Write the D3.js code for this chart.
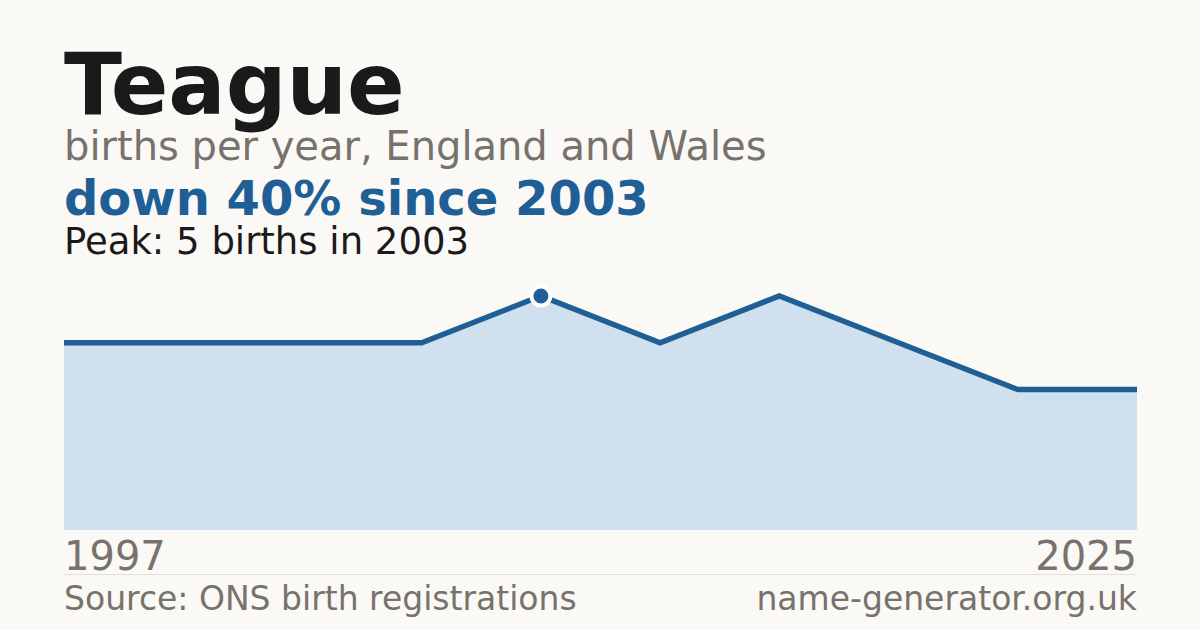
<!DOCTYPE html>
<html>
<head>
<meta charset="utf-8">
<script src="https://cdn.jsdelivr.net/npm/d3@7"></script>
<style>
  html, body { margin: 0; padding: 0; background: #faf9f5; }
  svg { display: block; font-family: "DejaVu Sans", sans-serif; }
</style>
</head>
<body>
<div id="chart"></div>
<script>
// years with registrations, and births in each
var years = [1997, 1998, 2000, 2002, 2003, 2006, 2010, 2014, 2019, 2025];
var births = [4, 4, 4, 4, 5, 4, 5, 4, 3, 3];
var axisLabels = ["1997", "2025"];

var W = 1200, H = 630;
var margin = { left: 64, right: 63 };

var svg = d3.select("#chart").append("svg")
  .attr("width", W)
  .attr("height", H);

svg.append("rect").attr("width", W).attr("height", H).attr("fill", "#faf9f5");

var data = years.map(function (y, i) { return { year: y, value: births[i] }; });

var x = d3.scalePoint()
  .domain(years)
  .range([margin.left, W - margin.right]);

var y = d3.scaleLinear()
  .domain([0, 5])
  .range([530, 296]);

var area = d3.area()
  .x(function (d) { return x(d.year); })
  .y0(y(0))
  .y1(function (d) { return y(d.value); });

var line = d3.line()
  .x(function (d) { return x(d.year); })
  .y(function (d) { return y(d.value); });

svg.append("path")
  .attr("d", area(data))
  .attr("fill", "#d0e0ef");

svg.append("path")
  .attr("d", line(data))
  .attr("fill", "none")
  .attr("stroke", "#1f5f96")
  .attr("stroke-width", 5.5);

// peak marker
var peak = data.reduce(function (a, b) { return b.value > a.value ? b : a; });
svg.append("circle")
  .attr("cx", x(peak.year))
  .attr("cy", y(peak.value))
  .attr("r", 9.5)
  .attr("fill", "#1f5f96")
  .attr("stroke", "#ffffff")
  .attr("stroke-width", 4);

// titles
svg.append("text").attr("x", 64).attr("y", 114)
  .attr("font-size", 85).attr("font-weight", "bold").attr("fill", "#1a1a1a")
  .text("Teague");
svg.append("text").attr("x", 64).attr("y", 160)
  .attr("font-size", 40).attr("fill", "#77726c")
  .text("births per year, England and Wales");
svg.append("text").attr("x", 64).attr("y", 215)
  .attr("font-size", 48).attr("font-weight", "bold").attr("fill", "#1f5f96")
  .text("down 40% since 2003");
svg.append("text").attr("x", 64).attr("y", 254)
  .attr("font-size", 37).attr("fill", "#1a1a1a")
  .text("Peak: 5 births in 2003");

// year labels
svg.append("text").attr("x", x(years[0])).attr("y", 570)
  .attr("font-size", 40).attr("fill", "#77726c")
  .text(axisLabels[0]);
svg.append("text").attr("x", x(years[years.length - 1])).attr("y", 570)
  .attr("font-size", 40).attr("fill", "#77726c").attr("text-anchor", "end")
  .text(axisLabels[1]);

svg.append("line")
  .attr("x1", margin.left).attr("x2", W - margin.right)
  .attr("y1", 574.5).attr("y2", 574.5)
  .attr("stroke", "#e2dfd8").attr("stroke-width", 1);

svg.append("text").attr("x", 64).attr("y", 610)
  .attr("font-size", 33).attr("fill", "#77726c")
  .text("Source: ONS birth registrations");
svg.append("text").attr("x", W - margin.right).attr("y", 610)
  .attr("font-size", 33).attr("fill", "#77726c").attr("text-anchor", "end")
  .text("name-generator.org.uk");
</script>
</body>
</html>
